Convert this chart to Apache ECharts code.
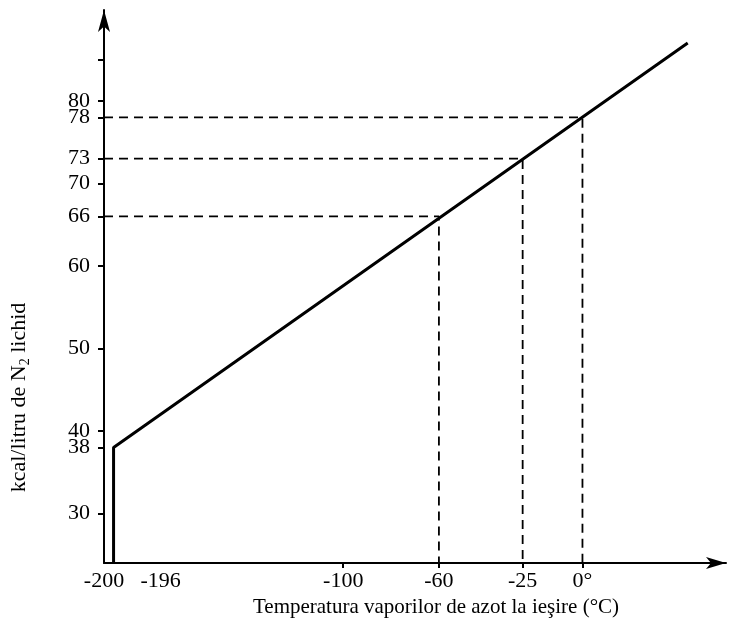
<!DOCTYPE html>
<html>
<head>
<meta charset="utf-8">
<script src="https://cdn.jsdelivr.net/npm/echarts@6/dist/echarts.min.js"></script>
<style>
html,body{margin:0;padding:0;background:#fff;}
#chart{width:730px;height:629px;}
</style>
</head>
<body>
<div id="chart"></div>
<script>
// Data
const lineX = [-196, -196, 44];
const lineY = [24, 38, 87];
const dropX = [-60, -25, 0];
const dropY = [66, 73, 78];
const yTickLabels = [30, 38, 40, 50, 60, 66, 70, 73, 78, 80];
const yTickMarks = [30, 38, 40, 50, 60, 66, 70, 73, 78, 80, 85];
const xTickLabels = [-200, -196, -100, -60, -25, 0];
const xTickMarks = [-100, -60, -25, 0];
const xMin = -200, xMax = 60, yMin = 24, yMax = 91;

const FONT = 'Liberation Serif';
const chart = echarts.init(document.getElementById('chart'));

const series = [{
  type: 'line',
  data: lineX.map((x, i) => [x, lineY[i]]),
  symbol: 'none',
  lineStyle: {color: '#000', width: 3},
  z: 5
}];
dropX.forEach((x, i) => {
  series.push({
    type: 'line',
    data: [[xMin, dropY[i]], [x, dropY[i]], [x, yMin]],
    symbol: 'none',
    lineStyle: {color: '#000', width: 1.8, type: [9, 6]},
    z: 3
  });
});

chart.setOption({
  backgroundColor: '#fff',
  animation: false,
  grid: {left: 103, right: 4, top: 10, bottom: 66, containLabel: false},
  xAxis: {
    type: 'value', min: xMin, max: xMax,
    splitLine: {show: false},
    axisLine: {onZero: false, lineStyle: {color: '#000', width: 2}, symbol: ['none', 'arrow'], symbolSize: [9, 20]},
    axisTick: {customValues: xTickMarks, length: 5, lineStyle: {color: '#000', width: 2}},
    axisLabel: {
      customValues: xTickLabels.concat([xMax]), margin: 7, color: '#000', fontFamily: FONT, fontSize: 22,
      hideOverlap: false, showMinLabel: true, showMaxLabel: false,
      formatter: v => v === xMax ? '' : (v === 0 ? '0°' : (v === -196 ? '{r|-196}' : String(v))),
      rich: {r: {fontFamily: FONT, fontSize: 22, color: '#000', padding: [0, 0, 0, 94]}}
    },
    name: 'Temperatura vaporilor de azot la ieşire (°C)',
    nameLocation: 'middle', nameGap: 31,
    nameTextStyle: {color: '#000', fontFamily: FONT, fontSize: 21, padding: [0, 0, 0, 42]}
  },
  yAxis: {
    type: 'value', min: yMin, max: yMax,
    splitLine: {show: false},
    axisLine: {onZero: false, lineStyle: {color: '#000', width: 2}, symbol: ['none', 'arrow'], symbolSize: [9, 22]},
    axisTick: {customValues: yTickMarks, length: 6, lineStyle: {color: '#000', width: 2}},
    axisLabel: {
      customValues: yTickLabels.concat([yMax]), margin: 14, color: '#000', fontFamily: FONT, fontSize: 22,
      hideOverlap: false, showMinLabel: true, showMaxLabel: false,
      formatter: v => v === yMax ? '' : String(v)
    },
    name: 'kcal/litru de N{sub|2} lichid',
    nameLocation: 'middle', nameGap: 72,
    nameTextStyle: {
      color: '#000', fontFamily: FONT, fontSize: 22, padding: [0, 222, 0, 0],
      rich: {sub: {fontFamily: FONT, fontSize: 14, color: '#000', padding: [12, 0, 0, 0]}}
    }
  },
  series: series
});
</script>
</body>
</html>
